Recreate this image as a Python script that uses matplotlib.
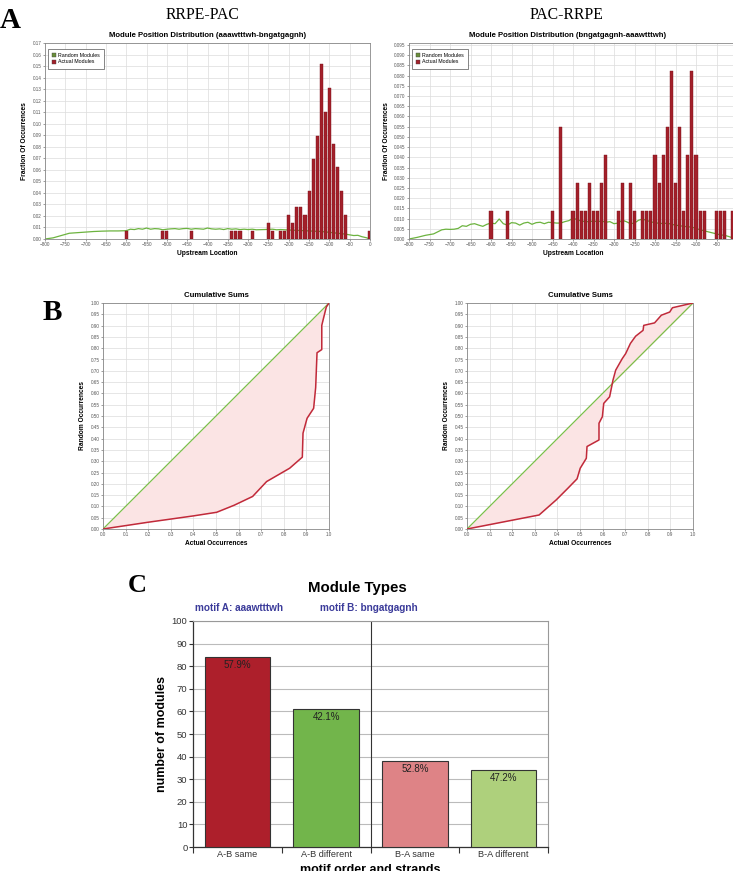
import numpy as np
import matplotlib.pyplot as plt
from matplotlib.patches import Patch

plt.rcParams['font.family'] = ['Liberation Sans', 'DejaVu Sans']

# Panel A left: RRPE-PAC module positions (counts per 10 bp bin)
left_pos = [-600, -510, -500, -440, -340, -330, -320, -290, -250, -240, -220, -210,
            -200, -190, -180, -170, -160, -150, -140, -130, -120, -110, -100, -90,
            -80, -70, -60, 0]
left_cnt = [1, 1, 1, 1, 1, 1, 1, 1, 2, 1, 1, 1,
            3, 2, 4, 4, 3, 6, 10, 13, 22, 16, 19, 12,
            9, 6, 3, 1]
left_total = 145

# random background for left panel
left_rand_x = [-800, -780, -760, -740, -720, -700, -680, -660, -640, -620, -600, -590,
               -580, -570, -560, -550, -540, -530, -520, -510, -500, -490, -480, -470,
               -460, -450, -440, -430, -420, -410, -400, -390, -380, -370, -360, -350,
               -340, -330, -320, -310, -300, -290, -280, -260, -240, -230, -220, -200,
               -180, -160, -140, -120, -100, -80, -60, -40, -30, -20, -10, 0]
left_rand_y = [0, 0.001, 0.003, 0.005, 0.0055, 0.006, 0.0065, 0.0068, 0.007, 0.007, 0.0072, 0.0085,
               0.0082, 0.009, 0.0085, 0.0095, 0.0085, 0.009, 0.0088, 0.008, 0.0085, 0.0088, 0.009, 0.0085,
               0.009, 0.0092, 0.0085, 0.009, 0.0088, 0.0085, 0.0095, 0.0088, 0.0085, 0.0088, 0.0082, 0.009,
               0.0085, 0.0088, 0.0082, 0.0085, 0.0082, 0.0085, 0.008, 0.0082, 0.0085, 0.008, 0.0082, 0.0078,
               0.0075, 0.0072, 0.0068, 0.0065, 0.0058, 0.005, 0.0042, 0.003, 0.0032, 0.002, 0.0012, 0]

# Panel A right: PAC-RRPE module positions
right_pos = [-600, -560, -450, -430, -400, -390, -380, -370, -360, -350, -340, -330, -320,
             -290, -280, -260, -250, -230, -220, -210, -200, -190, -180, -170, -160, -150,
             -140, -130, -120, -110, -100, -90, -80, -50, -40, -30, -10]
right_cnt = [1, 1, 1, 4, 1, 2, 1, 1, 2, 1, 1, 2, 3,
             1, 2, 2, 1, 1, 1, 1, 3, 2, 3, 4, 6, 2,
             4, 1, 3, 6, 3, 1, 1, 1, 1, 1, 1]
right_total = 73

right_rand_x = [-800, -780, -760, -740, -720, -710, -700, -690, -680, -670, -660, -650,
                -640, -630, -620, -610, -600, -590, -580, -570, -560, -550, -540, -530,
                -520, -510, -500, -490, -480, -470, -460, -450, -440, -430, -420, -410,
                -400, -390, -380, -370, -360, -350, -340, -330, -320, -310, -300, -290,
                -280, -270, -260, -250, -240, -230, -220, -210, -200, -190, -180, -170,
                -160, -150, -140, -130, -120, -110, -100, -90, -80, -70, -60, -50,
                -40, -30, -20, -10, 0]
right_rand_y = [0, 0.0008, 0.0018, 0.0025, 0.0045, 0.0048, 0.0047, 0.0048, 0.0052, 0.0065, 0.0062, 0.0072,
                0.0075, 0.0068, 0.0062, 0.0072, 0.0078, 0.0075, 0.0098, 0.0075, 0.0068, 0.008, 0.0078, 0.0068,
                0.0078, 0.0082, 0.0072, 0.008, 0.0082, 0.0075, 0.0082, 0.008, 0.0078, 0.0078, 0.0085, 0.009,
                0.0102, 0.0095, 0.0088, 0.0085, 0.0085, 0.0088, 0.0085, 0.0088, 0.0082, 0.0085, 0.0075, 0.0078,
                0.0092, 0.0085, 0.0075, 0.0078, 0.0092, 0.0098, 0.009, 0.0085, 0.0078, 0.0078, 0.0075, 0.0078,
                0.0072, 0.0068, 0.0065, 0.0062, 0.006, 0.0058, 0.0052, 0.0045, 0.004, 0.0035, 0.003, 0.0025,
                0.002, 0.0018, 0.0012, 0.0005, 0]

# Panel B: cumulative sums (actual vs random)
cum_left_x = [0, 0.2, 0.4, 0.503, 0.58, 0.662, 0.724, 0.826, 0.882, 0.885, 0.903, 0.932,
              0.941, 0.947, 0.968, 0.968, 0.979, 0.988, 1.0]
cum_left_y = [0, 0.03, 0.058, 0.074, 0.105, 0.144, 0.21, 0.269, 0.318, 0.424, 0.49, 0.534,
              0.626, 0.78, 0.794, 0.901, 0.946, 0.982, 1.0]
cum_right_x = [0, 0.319, 0.395, 0.447, 0.487, 0.501, 0.528, 0.531, 0.584, 0.584, 0.599, 0.605,
               0.631, 0.64, 0.646, 0.658, 0.687, 0.702, 0.723, 0.746, 0.779, 0.782, 0.83,
               0.86, 0.897, 0.909, 1.0]
cum_right_y = [0, 0.062, 0.129, 0.181, 0.222, 0.269, 0.313, 0.365, 0.394, 0.468, 0.497, 0.556,
               0.585, 0.629, 0.659, 0.703, 0.754, 0.776, 0.821, 0.853, 0.879, 0.901, 0.912,
               0.946, 0.96, 0.979, 1.0]

# Panel C: module types
types = ['A-B same', 'A-B different', 'B-A same', 'B-A different']
type_counts = [84, 61, 38, 34]
type_pcts = ['57.9%', '42.1%', '52.8%', '47.2%']
type_colors = ['#ad1f2b', '#72b54b', '#de8386', '#aed07c']

W, H = 733, 871
fig = plt.figure(figsize=(W / 100, H / 100), dpi=100)
fig.patch.set_facecolor('white')


def box(x0, y0, x1, y1):
    # pixel box (top-left origin) -> figure fraction rect
    return [x0 / W, 1 - y1 / H, (x1 - x0) / W, (y1 - y0) / H]


def style_small(ax, title, xlabel, ylabel):
    ax.grid(True, color='#dcdcdc', lw=0.5)
    ax.set_axisbelow(True)
    for s in ax.spines.values():
        s.set_color('#888888')
        s.set_linewidth(0.6)
    ax.tick_params(labelsize=3.3, length=1.5, width=0.4, colors='#555555', pad=1)
    ax.set_title(title, fontsize=5.6, fontweight='bold', pad=4)
    ax.set_xlabel(xlabel, fontsize=4.8, fontweight='bold', labelpad=2)
    ax.set_ylabel(ylabel, fontsize=4.8, fontweight='bold', labelpad=3)


def panel_a(ax, pos, cnt, total, rx, ry, title, ytop, yfmt, ystep):
    frac = np.array(cnt) / total
    ax.plot(rx, ry, color='#6cb33f', lw=0.9, zorder=2)
    ax.bar(pos, frac, width=7.5, color='#a3202a', edgecolor='#7a1018', lw=0.3, zorder=3)
    ax.set_xlim(-800, 0)
    ax.set_ylim(0, ytop)
    ax.set_xticks(np.arange(-800, 1, 50))
    ax.set_yticks(np.arange(0, ytop + 1e-9, ystep))
    ax.yaxis.set_major_formatter(plt.FormatStrFormatter(yfmt))
    style_small(ax, title, 'Upstream Location', 'Fraction Of Occurrences')
    handles = [Patch(facecolor='#6a8f3a', edgecolor='#444444', lw=0.3, label='Random Modules'),
               Patch(facecolor='#a3202a', edgecolor='#444444', lw=0.3, label='Actual Modules')]
    leg = ax.legend(handles=handles, loc='upper left', fontsize=3.8, fancybox=False,
                    handlelength=0.8, handleheight=0.8, handletextpad=0.4,
                    borderpad=0.8, labelspacing=0.3, framealpha=1,
                    bbox_to_anchor=(0.0, 0.985))
    leg.get_frame().set_edgecolor('#555555')
    leg.get_frame().set_linewidth(0.5)


ax1 = fig.add_axes(box(45, 43, 370, 239))
panel_a(ax1, left_pos, left_cnt, left_total, left_rand_x, left_rand_y,
        'Module Position Distribution (aaawtttwh-bngatgagnh)', 0.17, '%.2f', 0.01)
ax2 = fig.add_axes(box(409, 43, 737, 239))
panel_a(ax2, right_pos, right_cnt, right_total, right_rand_x, right_rand_y,
        'Module Position Distribution (bngatgagnh-aaawtttwh)', 0.096, '%.3f', 0.005)
ax2.title.set_x(0.483)


def panel_b(ax, cx, cy):
    # shade the region between the diagonal and the curve
    xs = np.linspace(0, 1, 400)
    ax.fill_between(xs, xs, np.interp(xs, cx, cy), color='#fbe4e4', lw=0, zorder=1)
    ax.plot([0, 1], [0, 1], color='#7cbf4a', lw=0.9, zorder=3)
    ax.plot(cx, cy, color='#c12a3a', lw=1.1, zorder=4)
    ax.set_xlim(0, 1)
    ax.set_ylim(0, 1)
    ax.set_xticks(np.arange(0, 1.01, 0.1))
    ax.set_yticks(np.arange(0, 1.001, 0.05))
    ax.xaxis.set_major_formatter(plt.FormatStrFormatter('%.1f'))
    ax.yaxis.set_major_formatter(plt.FormatStrFormatter('%.2f'))
    style_small(ax, 'Cumulative Sums', 'Actual Occurrences', 'Random Occurrences')


ax3 = fig.add_axes(box(103, 303, 329, 529))
panel_b(ax3, cum_left_x, cum_left_y)
ax4 = fig.add_axes(box(467, 303, 693, 529))
panel_b(ax4, cum_right_x, cum_right_y)

# Panel C
ax5 = fig.add_axes(box(193, 621, 548, 847))
xpos = np.arange(len(types))
ax5.bar(xpos, type_counts, width=0.74, color=type_colors, edgecolor='#333333', lw=0.8, zorder=3)
for x, v, p in zip(xpos, type_counts, type_pcts):
    ax5.text(x, v - 1.2, p, ha='center', va='top', fontsize=7, color='#222222', zorder=4)
ax5.axvline(1.5, color='#333333', lw=0.8, zorder=2)
ax5.set_xlim(-0.5, 3.5)
ax5.set_ylim(0, 100)
ax5.set_yticks(np.arange(0, 101, 10))
ax5.set_xticks(xpos)
ax5.set_xticklabels(types)
ax5.set_xticks([-0.5, 0.5, 1.5, 2.5, 3.5], minor=True)
ax5.tick_params(axis='x', which='major', length=0, labelsize=6.6, pad=2, colors='#333333')
ax5.tick_params(axis='x', which='minor', length=4, width=0.8, color='#333333')
ax5.tick_params(axis='y', labelsize=6.8, length=3, width=0.8, pad=1, colors='#333333')
ax5.grid(True, axis='y', color='#bbbbbb', lw=0.8)
ax5.set_axisbelow(True)
for s in ['left', 'bottom']:
    ax5.spines[s].set_color('#333333')
    ax5.spines[s].set_linewidth(0.9)
for s in ['top', 'right']:
    ax5.spines[s].set_color('#999999')
    ax5.spines[s].set_linewidth(0.8)
ax5.set_ylabel('number of modules', fontsize=9, fontweight='bold', labelpad=3)

fig.text(357 / W, 1 - 588 / H, 'Module Types', fontsize=10.8, fontweight='bold',
         ha='center', va='center')
fig.text(195 / W, 1 - 608 / H, 'motif A: aaawtttwh', fontsize=7.2, fontweight='bold',
         color='#3b3b9a', ha='left', va='center')
fig.text(320 / W, 1 - 608 / H, 'motif B: bngatgagnh', fontsize=7.2, fontweight='bold',
         color='#3b3b9a', ha='left', va='center')
fig.text(370 / W, 1 - 864 / H, 'motif order and strands', fontsize=9, fontweight='bold',
         ha='center', va='top')

# panel headers and letters
serif = ['Liberation Serif', 'DejaVu Serif']
fig.text(203 / W, 1 - 15 / H, 'RRPE-PAC', fontsize=11.3, fontfamily=serif, ha='center', va='center')
fig.text(567 / W, 1 - 15 / H, 'PAC-RRPE', fontsize=11.3, fontfamily=serif, ha='center', va='center')
fig.text(0, 1 - 21 / H, 'A', fontsize=21, fontweight='bold', fontfamily=serif, ha='left', va='center')
fig.text(52 / W, 1 - 312 / H, 'B', fontsize=21, fontweight='bold', fontfamily=serif, ha='center', va='center')
fig.text(137 / W, 1 - 585 / H, 'C', fontsize=19, fontweight='bold', fontfamily=serif, ha='center', va='center')

fig.savefig('out.png', dpi=100, facecolor='white')
